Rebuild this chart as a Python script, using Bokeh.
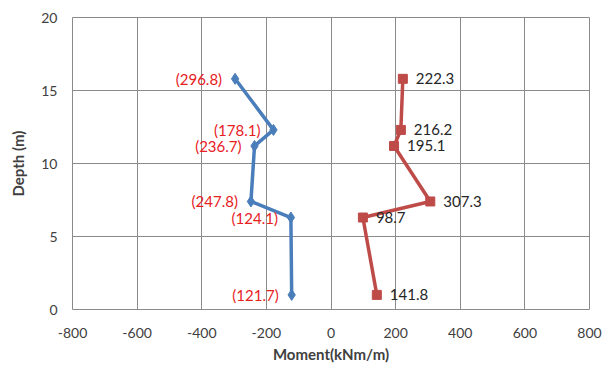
from bokeh.plotting import figure
from bokeh.models import ColumnDataSource, FixedTicker, Range1d
from bokeh.core.properties import value
from bokeh.embed import file_html
from bokeh.resources import INLINE

# Data
depth_neg = [15.8, 12.3, 11.2, 7.4, 6.3, 1.0]
moment_neg = [-296.8, -178.1, -236.7, -247.8, -124.1, -121.7]
labels_neg = ["(296.8)", "(178.1)", "(236.7)", "(247.8)", "(124.1)", "(121.7)"]

depth_pos = [15.8, 12.3, 11.2, 7.4, 6.3, 1.0]
moment_pos = [222.3, 216.2, 195.1, 307.3, 98.7, 141.8]
labels_pos = ["222.3", "216.2", "195.1", "307.3", "98.7", "141.8"]

x_ticks = [-800, -600, -400, -200, 0, 200, 400, 600, 800]
x_tick_labels = ["-800", "-600", "-400", "-200", "0", "200", "400", "600", "800"]
y_ticks = [0, 5, 10, 15, 20]

FONT = "Lato"
BLUE = "#4A7EBB"
RED = "#BE4B48"

p = figure(frame_width=517, frame_height=292, output_backend="svg",
           toolbar_location=None, x_range=Range1d(-800, 800), y_range=Range1d(0, 20),
           min_border_left=72, min_border_right=19, min_border_top=17, min_border_bottom=54)
p.background_fill_color = "white"
p.border_fill_color = "white"
p.outline_line_color = "#8a8a8a"
p.outline_line_width = 1

for ax in (p.xaxis[0], p.yaxis[0]):
    ax.axis_line_color = None
    ax.major_tick_line_color = None
    ax.minor_tick_line_color = None
    ax.major_tick_out = 0
    ax.major_tick_in = 0
    ax.major_label_text_font = FONT
    ax.major_label_text_font_size = "14px"
    ax.major_label_text_color = "#404040"
    ax.axis_label_text_font = FONT
    ax.axis_label_text_font_size = "15px"
    ax.axis_label_text_font_style = "bold"
    ax.axis_label_text_color = "#404040"

p.xaxis.ticker = FixedTicker(ticks=x_ticks)
p.xaxis.major_label_overrides = {t: s for t, s in zip(x_ticks, x_tick_labels)}
p.yaxis.ticker = FixedTicker(ticks=y_ticks)
p.xaxis.axis_label = "Moment(kNm/m)"
p.yaxis.axis_label = "Depth (m)"
p.xaxis.major_label_standoff = 18
p.xaxis.axis_label_standoff = 4
p.yaxis.major_label_standoff = 15
p.yaxis.axis_label_standoff = 11

p.xgrid.ticker = FixedTicker(ticks=x_ticks)
p.ygrid.ticker = FixedTicker(ticks=y_ticks)
p.grid.grid_line_color = "#8a8a8a"
p.grid.grid_line_width = 1

src_neg = ColumnDataSource(dict(x=moment_neg, y=depth_neg, t=labels_neg))
src_pos = ColumnDataSource(dict(x=moment_pos, y=depth_pos, t=labels_pos))

p.line("x", "y", source=src_neg, line_color=BLUE, line_width=3.5)
p.scatter("x", "y", source=src_neg, marker="diamond", size=11, fill_color=BLUE, line_color=BLUE)
p.line("x", "y", source=src_pos, line_color=RED, line_width=3.5)
p.scatter("x", "y", source=src_pos, marker="square", size=9, fill_color=RED, line_color=RED)

p.text("x", "y", text="t", source=src_neg, x_offset=-13, text_align="right",
       text_baseline="middle", text_font=value(FONT), text_font_size="15px",
       text_color="#E8201E")
p.text("x", "y", text="t", source=src_pos, x_offset=13, text_align="left",
       text_baseline="middle", text_font=value(FONT), text_font_size="15px",
       text_color="#262626")

open("out.html", "w").write(file_html(p, INLINE))
